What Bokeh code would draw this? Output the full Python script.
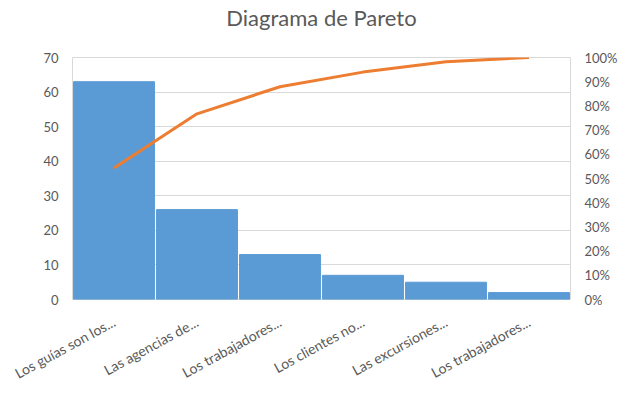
from bokeh.embed import file_html
from bokeh.models import FixedTicker, LinearAxis, Range1d, NumeralTickFormatter, Title
from bokeh.plotting import figure
from bokeh.resources import INLINE

categories = ["Los guías son los...", "Las agencias de...", "Los trabajadores...",
              "Los clientes no...", "Las excursiones...", "Los trabajadores..."]
counts = [63, 26, 13, 7, 5, 2]

total = sum(counts)
cumulative = []
running = 0
for c in counts:
    running += c
    cumulative.append(running / total)

positions = [i + 0.5 for i in range(len(categories))]

grey = "#595959"
font = "Lato"

p = figure(width=624, height=395, output_backend="svg", toolbar_location=None,
           x_range=Range1d(0, len(categories)), y_range=Range1d(0, 70),
           frame_width=498, frame_height=242,
           min_border_left=72, min_border_right=54, min_border_top=57, min_border_bottom=96)
p.extra_y_ranges = {"pct": Range1d(0, 1)}

# empty title used as a spacer, so the real one sits higher above the plot area
p.add_layout(Title(text=" ", text_font_size="22px", standoff=0), "above")
p.add_layout(Title(text="Diagrama de Pareto", align="center", text_font=font,
                   text_font_size="22px", text_font_style="normal",
                   text_color=grey, standoff=0), "above")

p.vbar(x=positions, top=counts, width=0.975, bottom=0, color="#5B9BD5")
p.line(positions, cumulative, y_range_name="pct", line_color="#ED7D31", line_width=3)

p.outline_line_color = "#D9D9D9"
p.xgrid.grid_line_color = None
p.ygrid.grid_line_color = "#D9D9D9"
p.ygrid.ticker = FixedTicker(ticks=list(range(0, 71, 10)))

p.xaxis.ticker = FixedTicker(ticks=positions)
p.xaxis.major_label_overrides = {pos: name for pos, name in zip(positions, categories)}
p.xaxis.major_label_orientation = 0.5

p.yaxis.ticker = FixedTicker(ticks=list(range(0, 71, 10)))

right = LinearAxis(y_range_name="pct", ticker=FixedTicker(ticks=[i / 10 for i in range(11)]),
                   formatter=NumeralTickFormatter(format="0%"))
p.add_layout(right, "right")

for ax in p.axis:
    ax.axis_line_color = None
    ax.major_tick_line_color = None
    ax.minor_tick_line_color = None
    ax.major_label_text_font = font
    ax.major_label_text_font_size = "13px"
    ax.major_label_text_color = grey
    ax.major_label_standoff = 8

p.xaxis.major_label_standoff = 15
p.xaxis.major_label_text_font_size = "14px"

open("out.html", "w").write(file_html(p, INLINE))
